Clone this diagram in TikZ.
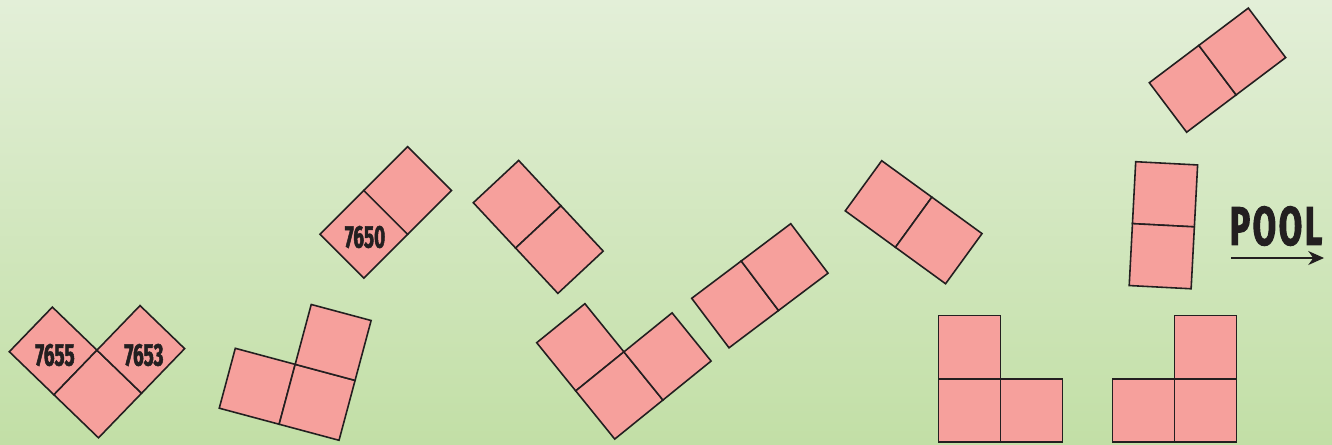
\documentclass[tikz,border=0pt]{standalone}
\usepackage{fontspec}
\usetikzlibrary{arrows.meta}
\newfontfamily\tagfont{Fira Sans}[FakeStretch=0.6,FakeBold=1.6]
\newfontfamily\poolfont{Fira Sans}[FakeStretch=0.62,FakeBold=1.8,LetterSpace=5]
\definecolor{tile}{HTML}{F6A09C}
\definecolor{ink}{HTML}{231F20}
\definecolor{bgtop}{HTML}{E3EFD8}
\definecolor{bgbottom}{HTML}{C2DFA6}
\def\tilesize{62}
\tikzset{
  cell/.style={draw=ink, line width=0.9pt, fill=tile, line join=miter},
  tag/.style={font=\tagfont\bfseries\fontsize{18}{18}\selectfont, text=ink, inner sep=0pt},
}
\newcommand{\tiles}[1]{\foreach \i/\j in {#1} \draw[cell] (\i*\tilesize,\j*\tilesize) rectangle ++(\tilesize,\tilesize);}
\begin{document}
\begin{tikzpicture}[x=0.02cm, y=-0.02cm]
    % background
    \shade[top color=bgtop, bottom color=bgbottom] (0,0) rectangle (1332,444);
    \useasboundingbox (0,0) rectangle (1332,444);

    % --- V PIECE (7655 / 7653) ---
    \begin{scope}[shift={(9.3,351.7)}, rotate=46]
        \tiles{0/0,0/1,1/1}
    \end{scope}
    \node[tag] (t7655) at (55,355) {7655};
    \node[tag] (t7653) at (144,355) {7653};

    % --- L PIECE, tilted ---
    \begin{scope}[shift={(235.3,348.3)}, rotate=-15]
        \tiles{0/0,1/0,1/-1}
    \end{scope}

    % --- DOMINO 7650 ---
    \begin{scope}[shift={(320,234.3)}, rotate=45]
        \tiles{0/0,1/0}
    \end{scope}
    \node[tag] (t7650) at (365,237) {7650};

    % --- DOMINO ---
    \begin{scope}[shift={(473.3,202.7)}, rotate=43]
        \tiles{0/0,0/1}
    \end{scope}

    % --- L PIECE ---
    \begin{scope}[shift={(536.7,342.7)}, rotate=39]
        \tiles{0/0,0/1,1/1}
    \end{scope}

    % --- DOMINO ---
    \begin{scope}[shift={(691.7,298.3)}, rotate=37]
        \tiles{0/0,1/0}
    \end{scope}

    % --- DOMINO ---
    \begin{scope}[shift={(881.7,160.7)}, rotate=-36]
        \tiles{0/0,1/0}
    \end{scope}

    % --- L PIECES, upright ---
    \begin{scope}[shift={(938.3,315.7)}, yscale=1.02]
        \tiles{0/0,0/1,1/1}
    \end{scope}
    \begin{scope}[shift={(1112.3,315.7)}, yscale=1.02]
        \tiles{1/0,0/1,1/1}
    \end{scope}

    % --- DOMINO, nearly upright ---
    \begin{scope}[shift={(1135.7,161.7)}, rotate=-3]
        \tiles{0/0,0/1}
    \end{scope}

    % --- DOMINO, top ---
    \begin{scope}[shift={(1149.3,82.7)}, rotate=37]
        \tiles{0/0,1/0}
    \end{scope}

    % --- POOL ---
    \node[text=ink, inner sep=0pt, font=\poolfont\bfseries\fontsize{31}{31}\selectfont] (pool) at (1276,226) {POOL};
    \coordinate (poolL) at (1231,258);
    \coordinate (poolR) at (1324,258);
    \draw[ink, line width=0.6pt, -{Stealth[length=9pt, width=8pt]}] (poolL) -- (poolR);
\end{tikzpicture}
\end{document}
